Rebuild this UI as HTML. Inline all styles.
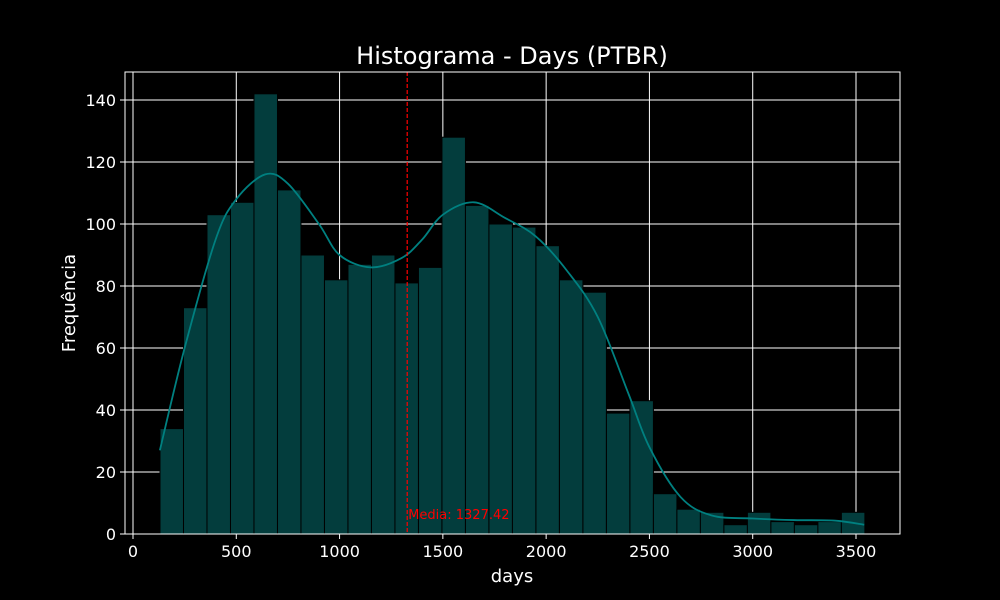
<!DOCTYPE html>
<html><head><meta charset="utf-8"><style>
html,body{margin:0;padding:0;background:#000;}
svg{display:block;font-family:"DejaVu Sans","Liberation Sans",sans-serif;}
</style></head><body>
<svg id="chart" width="1000" height="600">
<rect width="1000" height="600" fill="#000"/>
<text x="512" y="64" font-size="24" fill="#fff" text-anchor="middle">Histograma - Days (PTBR)</text>
<text x="512" y="582" font-size="18" fill="#fff" text-anchor="middle">days</text>
<text transform="translate(75,303) rotate(-90)" font-size="18" fill="#fff" text-anchor="middle">Frequência</text>
<g id="grid"></g><g id="bars"></g><g id="kde"></g><g id="ticks"></g>
<rect x="125" y="72" width="775" height="462" fill="none" stroke="#fff" stroke-width="1"/>
</svg>
<script>
const binStart = 130.7;
const binEnd = 3543;
const counts = [34,73,103,107,142,111,90,82,87,90,81,86,128,106,100,99,93,82,78,39,43,13,8,7,3,7,4,3,4,7];
const kdeX = [130,250,400,500,640,750,900,1000,1150,1300,1400,1500,1650,1800,1950,2100,2250,2400,2500,2650,2800,3000,3200,3400,3540];
const kdeY = [27,60,95,108,116,113,100,90,86,89,95,103,107,102,96,85,70,45,28,12,6,5,4.5,4.3,3];
const xTicks = [0,500,1000,1500,2000,2500,3000,3500];
const yTicks = [0,20,40,60,80,100,120,140];
const meanVal = 1327.42;
const NS='http://www.w3.org/2000/svg';
const xs=v=>133+v*(723/3500);
const ys=v=>534-v*(434/140);
function mk(tag,attrs,parent){const e=document.createElementNS(NS,tag);for(const k in attrs)e.setAttribute(k,attrs[k]);document.getElementById(parent).appendChild(e);return e;}
xTicks.forEach(t=>{
 const g=mk('line',{x1:xs(t),x2:xs(t),y1:72,y2:534,stroke:'#fff','stroke-width':1},'grid');
 
 
 mk('line',{x1:xs(t),x2:xs(t),y1:534,y2:539,stroke:'#fff'},'ticks');
 const l=mk('text',{x:xs(t),y:557,fill:'#fff','font-size':16,'text-anchor':'middle'},'ticks');
 l.textContent=t;
 
 
});
yTicks.forEach(t=>{
 const g=mk('line',{x1:125,x2:900,y1:ys(t),y2:ys(t),stroke:'#fff','stroke-width':1},'grid');
 
 
 mk('line',{x1:120,x2:125,y1:ys(t),y2:ys(t),stroke:'#fff'},'ticks');
 const l=mk('text',{x:116,y:ys(t)+6,fill:'#fff','font-size':16,'text-anchor':'end'},'ticks');
 l.textContent=t;
 
 
});
const bw=(binEnd-binStart)/counts.length;
counts.forEach((c,i)=>{
 const x0=xs(binStart+i*bw),x1=xs(binStart+(i+1)*bw);
 const r=mk('rect',{x:x0,y:ys(c),width:x1-x0,height:534-ys(c),fill:'#033d3d',stroke:'#000','stroke-width':1},'bars');
 
 
});
const P=kdeX.map((x,i)=>[xs(x),ys(kdeY[i])]);
let d='M'+P[0][0]+','+P[0][1];
for(let i=0;i<P.length-1;i++){
 const p0=P[Math.max(0,i-1)],p1=P[i],p2=P[i+1],p3=P[Math.min(P.length-1,i+2)];
 const c1=[p1[0]+(p2[0]-p0[0])/6,p1[1]+(p2[1]-p0[1])/6];
 const c2=[p2[0]-(p3[0]-p1[0])/6,p2[1]-(p3[1]-p1[1])/6];
 d+='C'+c1[0]+','+c1[1]+' '+c2[0]+','+c2[1]+' '+p2[0]+','+p2[1];
}
const p=mk('path',{d:d,fill:'none',stroke:'#008080','stroke-width':1.8,'stroke-linejoin':'round'},'kde');


const m=mk('line',{x1:xs(meanVal),x2:xs(meanVal),y1:72,y2:534,stroke:'#f00','stroke-width':1.2,'stroke-dasharray':'4,2'},'kde');


const mt=mk('text',{x:xs(meanVal)+1,y:519,fill:'#f00','font-size':13},'kde');
mt.textContent='Media: '+meanVal.toFixed(2);


</script>
</body></html>
